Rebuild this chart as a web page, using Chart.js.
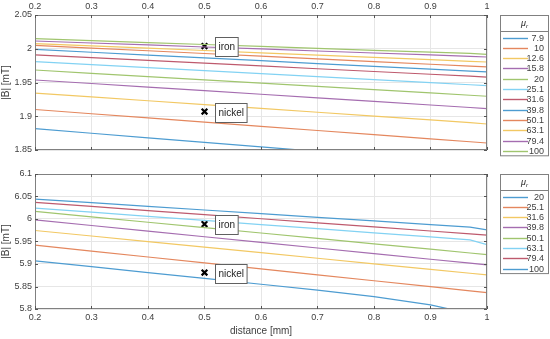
<!DOCTYPE html>
<html lang="en">
<head>
    <meta charset="UTF-8">
    <title>|B| vs distance</title>
    <script src="https://cdn.jsdelivr.net/npm/chart.js@4.4.0/dist/chart.umd.min.js"></script>
    <style>
        body { margin: 0; background: #fff; }
        #wrap { position: relative; width: 550px; height: 339px; }
        #topChart { position: absolute; left: 0; top: 0; }
        #bottomChart { position: absolute; left: 0; top: 165px; }
    </style>
</head>
<body>
    <div id="wrap">
        <canvas id="topChart" width="550" height="165"></canvas>
        <canvas id="bottomChart" width="550" height="174"></canvas>
    </div>

    <script>
        const distance = [0.2, 0.3, 0.4, 0.5, 0.6, 0.7, 0.8, 0.9, 0.97, 1.0];
        const xTicks = [0.2, 0.3, 0.4, 0.5, 0.6, 0.7, 0.8, 0.9, 1.0];
        const xTickLabels = ['0.2', '0.3', '0.4', '0.5', '0.6', '0.7', '0.8', '0.9', '1'];

        // top panel, |B| [mT] for each mu_r
        const topMu = ['7.9', '10', '12.6', '15.8', '20', '25.1', '31.6', '39.8', '50.1', '63.1', '79.4', '100'];
        const top7_9  = [1.8817, 1.8748, 1.8680, 1.8613, 1.8546, 1.8479, 1.8412, 1.8345, 1.8298, 1.8278];
        const top10   = [1.9100, 1.9037, 1.8975, 1.8913, 1.8851, 1.8789, 1.8727, 1.8665, 1.8622, 1.8604];
        const top12_6 = [1.9344, 1.9287, 1.9230, 1.9173, 1.9116, 1.9059, 1.9002, 1.8945, 1.8905, 1.8885];
        const top15_8 = [1.9537, 1.9485, 1.9432, 1.9379, 1.9326, 1.9273, 1.9220, 1.9167, 1.9130, 1.9113];
        const top20   = [1.9685, 1.9636, 1.9588, 1.9539, 1.9491, 1.9442, 1.9393, 1.9345, 1.9311, 1.9296];
        const top25_1 = [1.9810, 1.9766, 1.9721, 1.9677, 1.9632, 1.9588, 1.9543, 1.9499, 1.9467, 1.9454];
        const top31_6 = [1.9910, 1.9869, 1.9828, 1.9786, 1.9745, 1.9704, 1.9663, 1.9622, 1.9593, 1.9580];
        const top39_8 = [1.9990, 1.9948, 1.9906, 1.9865, 1.9823, 1.9781, 1.9739, 1.9698, 1.9668, 1.9656];
        const top50_1 = [2.0050, 2.0010, 1.9970, 1.9930, 1.9890, 1.9850, 1.9810, 1.9770, 1.9742, 1.9730];
        const top63_1 = [2.0076, 2.0042, 2.0008, 1.9974, 1.9940, 1.9906, 1.9872, 1.9838, 1.9814, 1.9804];
        const top79_4 = [2.0115, 2.0085, 2.0056, 2.0026, 1.9997, 1.9967, 1.9937, 1.9908, 1.9887, 1.9878];
        const top100  = [2.0150, 2.0121, 2.0092, 2.0063, 2.0034, 2.0005, 1.9976, 1.9950, 1.9932, 1.9918];
        const topSeries = [top7_9, top10, top12_6, top15_8, top20, top25_1, top31_6, top39_8, top50_1, top63_1, top79_4, top100];
        const topYTicks = [1.85, 1.9, 1.95, 2, 2.05];
        const topYTickLabels = ['1.85', '1.9', '1.95', '2', '2.05'];
        const topMarkers = [2.004, 1.907];   // iron, nickel at 0.5 mm

        // bottom panel
        const botMu = ['20', '25.1', '31.6', '39.8', '50.1', '63.1', '79.4', '100'];
        const bot20   = [5.9070, 5.8940, 5.8810, 5.8680, 5.8550, 5.8420, 5.8275, 5.8090, 5.7900, 5.7800];
        const bot25_1 = [5.9420, 5.9288, 5.9156, 5.9024, 5.8892, 5.8760, 5.8628, 5.8496, 5.8403, 5.8363];
        const bot31_6 = [5.9745, 5.9622, 5.9498, 5.9375, 5.9251, 5.9128, 5.9004, 5.8881, 5.8794, 5.8757];
        const bot39_8 = [5.9980, 5.9855, 5.9730, 5.9605, 5.9480, 5.9355, 5.9230, 5.9105, 5.9018, 5.8980];
        const bot50_1 = [6.0168, 6.0048, 5.9928, 5.9809, 5.9689, 5.9569, 5.9449, 5.9329, 5.9245, 5.9210];
        const bot63_1 = [6.0243, 6.0151, 6.0060, 5.9968, 5.9876, 5.9785, 5.9693, 5.9601, 5.9537, 5.9432];
        const bot79_4 = [6.0370, 6.0279, 6.0188, 6.0097, 6.0006, 5.9915, 5.9824, 5.9733, 5.9669, 5.9640];
        const bot100  = [6.0443, 6.0362, 6.0281, 6.0200, 6.0119, 6.0038, 5.9957, 5.9876, 5.9820, 5.9760];
        const botSeries = [bot20, bot25_1, bot31_6, bot39_8, bot50_1, bot63_1, bot79_4, bot100];
        const botYTicks = [5.8, 5.85, 5.9, 5.95, 6, 6.05, 6.1];
        const botYTickLabels = ['5.8', '5.85', '5.9', '5.95', '6', '6.05', '6.1'];
        const botMarkers = [5.9887, 5.881];

        const markerNames = ['iron', 'nickel'];
        const markerX = 0.5;

        // faded matlab line colours
        const palette = ['#4d9cd1', '#e4875e', '#f2c863', '#a56db0', '#a0c56e', '#82d2f3', '#be5a6d'];
        const FONT = "'Liberation Sans', Arial, sans-serif";
        const TXT = '#404040';

        function makeDatasets(series, labels) {
            return series.map((vals, i) => ({
                label: labels[i],
                data: vals.map((v, j) => ({ x: distance[j], y: v })),
                borderColor: palette[i % palette.length],
                borderWidth: 1.2,
                pointRadius: 0,
                tension: 0,
                clip: 0
            }));
        }

        function markerSet(vals) {
            return {
                label: 'markers',
                isMarker: true,
                data: vals.map(v => ({ x: markerX, y: v })),
                showLine: false,
                pointStyle: 'crossRot',
                pointRadius: 4,
                borderColor: '#000',
                borderWidth: 2.2
            };
        }

        // box, inward ticks, text boxes and legend
        const matlabPlugin = {
            id: 'matlabLook',
            afterDraw(chart) {
                const ctx = chart.ctx;
                const a = chart.chartArea;
                const xs = chart.scales.x, ys = chart.scales.y;
                ctx.save();
                ctx.strokeStyle = '#808080';
                ctx.lineWidth = 1;
                ctx.strokeRect(Math.round(a.left) + 0.5, Math.round(a.top) + 0.5,
                    Math.round(a.right - a.left) - 1, Math.round(a.bottom - a.top) - 1);
                ctx.strokeStyle = '#555';
                ctx.beginPath();
                xs.ticks.forEach(t => {
                    const px = Math.round(xs.getPixelForValue(t.value)) + 0.5;
                    ctx.moveTo(px, a.top); ctx.lineTo(px, a.top + 3);
                    ctx.moveTo(px, a.bottom); ctx.lineTo(px, a.bottom - 3);
                });
                ys.ticks.forEach(t => {
                    const py = Math.round(ys.getPixelForValue(t.value)) + 0.5;
                    ctx.moveTo(a.left, py); ctx.lineTo(a.left + 3, py);
                    ctx.moveTo(a.right, py); ctx.lineTo(a.right - 3, py);
                });
                ctx.stroke();

                // text boxes next to the markers
                const opts = chart.options.plugins.matlabLook;
                ctx.font = '10px ' + FONT;
                ctx.textBaseline = 'middle';
                opts.markers.forEach((v, i) => {
                    const px = xs.getPixelForValue(markerX);
                    const py = ys.getPixelForValue(v);
                    const w = ctx.measureText(markerNames[i]).width + 6;
                    const bx = Math.round(px + 11) + 0.5, by = Math.round(py - 9) + 0.5;
                    ctx.fillStyle = '#fff';
                    ctx.fillRect(bx, by, w, 19);
                    ctx.strokeStyle = '#606060';
                    ctx.strokeRect(bx, by, w, 19);
                    ctx.fillStyle = '#262626';
                    ctx.textAlign = 'left';
                    ctx.fillText(markerNames[i], bx + 3, by + 10);
                });

                // legend
                const lines = chart.data.datasets.filter(d => !d.isMarker);
                const lx = 500.5, lw = 48, ltop = Math.round(a.top) + 0.5;
                const lh = 22 + (lines.length - 1) * 10.3 + 5;
                ctx.fillStyle = '#fff';
                ctx.fillRect(lx, ltop, lw, lh);
                ctx.strokeStyle = '#808080';
                ctx.strokeRect(lx, ltop, lw, lh);
                ctx.beginPath();
                ctx.moveTo(lx, ltop + 16); ctx.lineTo(lx + lw, ltop + 16);
                ctx.stroke();
                ctx.fillStyle = '#262626';
                ctx.textAlign = 'left';
                ctx.font = 'italic 9px ' + FONT;
                ctx.fillText('\u03bc', 521, ltop + 8);
                ctx.font = 'italic 6px ' + FONT;
                ctx.fillText('r', 526, ltop + 11);
                ctx.font = '9px ' + FONT;
                ctx.textAlign = 'right';
                lines.forEach((d, i) => {
                    const y = Math.round(ltop + 22 + i * 10.3) + 0.5;
                    ctx.strokeStyle = d.borderColor;
                    ctx.lineWidth = 1.4;
                    ctx.beginPath();
                    ctx.moveTo(503, y); ctx.lineTo(528, y);
                    ctx.stroke();
                    ctx.fillStyle = TXT;
                    ctx.fillText(d.label, 544, y + 0.5);
                });
                ctx.restore();
            }
        };

        function makeChart(id, series, labels, yTicks, yLabels, markers, isTop) {
            const ctx = document.getElementById(id).getContext('2d');
            return new Chart(ctx, {
                type: 'line',
                data: { datasets: makeDatasets(series, labels).concat([markerSet(markers)]) },
                options: {
                    responsive: false,
                    animation: false,
                    devicePixelRatio: 1,
                    layout: { padding: { left: 0, right: 63, top: isTop ? 0 : 9, bottom: isTop ? 15 : 0 } },
                    plugins: {
                        legend: { display: false },
                        tooltip: { enabled: false },
                        matlabLook: { markers: markers }
                    },
                    scales: {
                        x: {
                            type: 'linear',
                            position: isTop ? 'top' : 'bottom',
                            min: 0.2, max: 1,
                            afterBuildTicks: s => { s.ticks = xTicks.map(v => ({ value: v })); },
                            afterFit: s => { s.height = isTop ? 15 : 30; },
                            ticks: {
                                font: { family: FONT, size: 9 }, color: TXT, padding: 3,
                                maxRotation: 0,
                                callback: (v, i) => xTickLabels[i]
                            },
                            grid: { color: '#e6e6e6', drawTicks: false },
                            border: { display: false },
                            title: {
                                display: !isTop, text: 'distance [mm]',
                                font: { family: FONT, size: 10 }, color: TXT,
                                padding: { top: 0, bottom: 2 }
                            }
                        },
                        y: {
                            min: yTicks[0], max: yTicks[yTicks.length - 1],
                            afterBuildTicks: s => { s.ticks = yTicks.map(v => ({ value: v })); },
                            afterFit: s => { s.width = 35; },
                            ticks: {
                                font: { family: FONT, size: 9 }, color: TXT, padding: 3,
                                callback: (v, i) => yLabels[i]
                            },
                            grid: { color: '#e6e6e6', drawTicks: false },
                            border: { display: false },
                            title: {
                                display: true, text: '|B| [mT]',
                                font: { family: FONT, size: 10 }, color: TXT,
                                padding: { top: 0, bottom: 0 }
                            }
                        }
                    }
                },
                plugins: [matlabPlugin]
            });
        }

        makeChart('topChart', topSeries, topMu, topYTicks, topYTickLabels, topMarkers, true);
        makeChart('bottomChart', botSeries, botMu, botYTicks, botYTickLabels, botMarkers, false);
    </script>
</body>
</html>
